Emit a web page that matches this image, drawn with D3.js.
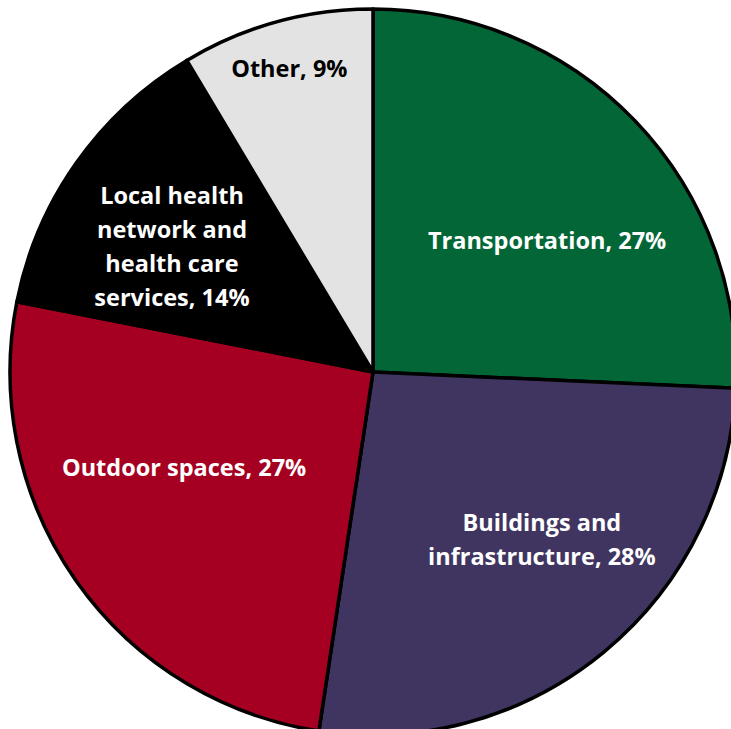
<!DOCTYPE html>
<html>
<head>
<meta charset="utf-8">
<script src="https://cdn.jsdelivr.net/npm/d3@7"></script>
<style>
  html, body { margin: 0; padding: 0; background: #ffffff; }
  svg { display: block; }
</style>
</head>
<body>
<svg id="chart" width="731" height="729"></svg>
<script>
// Share of responses by category (clockwise from 12 o'clock)
const categories = [
  "Transportation",
  "Buildings and infrastructure",
  "Outdoor spaces",
  "Local health network and health care services",
  "Other"
];
const values = [27, 28, 27, 14, 9];

// Label text, one entry per line
const labelLines = [
  ["Transportation, 27%"],
  ["Buildings and", "infrastructure, 28%"],
  ["Outdoor spaces, 27%"],
  ["Local health", "network and", "health care", "services, 14%"],
  ["Other, 9%"]
];

const sliceColors = ["#036637", "#3f3560", "#a50021", "#000000", "#e3e3e3"];
const textColors = ["#ffffff", "#ffffff", "#ffffff", "#ffffff", "#000000"];

// Label placement: polar angle (degrees clockwise from top) and distance from centre
const labelPlacement = [
  { angle: 53, dist: 218 },
  { angle: 134.8, dist: 238 },
  { angle: 243, dist: 212 },
  { angle: 302, dist: 237 },
  { angle: 344.6, dist: 315 }
];

const svg = d3.select("#chart");
const cx = 373, cy = 372, radius = 363;

const pie = d3.pie().sort(null).value(d => d)
  .startAngle(0).endAngle(2 * Math.PI);
const arc = d3.arc().innerRadius(0).outerRadius(radius);

const g = svg.append("g").attr("transform", `translate(${cx},${cy})`);

g.selectAll("path.slice")
  .data(pie(values))
  .join("path")
  .attr("class", "slice")
  .attr("d", arc)
  .attr("fill", (d, i) => sliceColors[i])
  .attr("stroke", "#000000")
  .attr("stroke-width", 3.5)
  .attr("stroke-linejoin", "round");

const lineHeight = 34;
const labels = g.selectAll("text.label")
  .data(labelLines)
  .join("text")
  .attr("class", "label")
  .attr("text-anchor", "middle")
  .attr("font-family", "'Open Sans', Lato, sans-serif")
  .attr("font-weight", "bold")
  .attr("font-size", "23.5px")
  .attr("fill", (d, i) => textColors[i])
  .attr("transform", (d, i) => {
    const p = labelPlacement[i];
    const a = p.angle * Math.PI / 180;
    return `translate(${p.dist * Math.sin(a)},${-p.dist * Math.cos(a)})`;
  });

labels.each(function(lines) {
  const t = d3.select(this);
  const offset = -(lines.length - 1) / 2 * lineHeight;
  lines.forEach((line, k) => {
    t.append("tspan")
      .attr("x", 0)
      .attr("y", offset + k * lineHeight)
      .attr("dy", "0.35em")
      .text(line);
  });
});
</script>
</body>
</html>
